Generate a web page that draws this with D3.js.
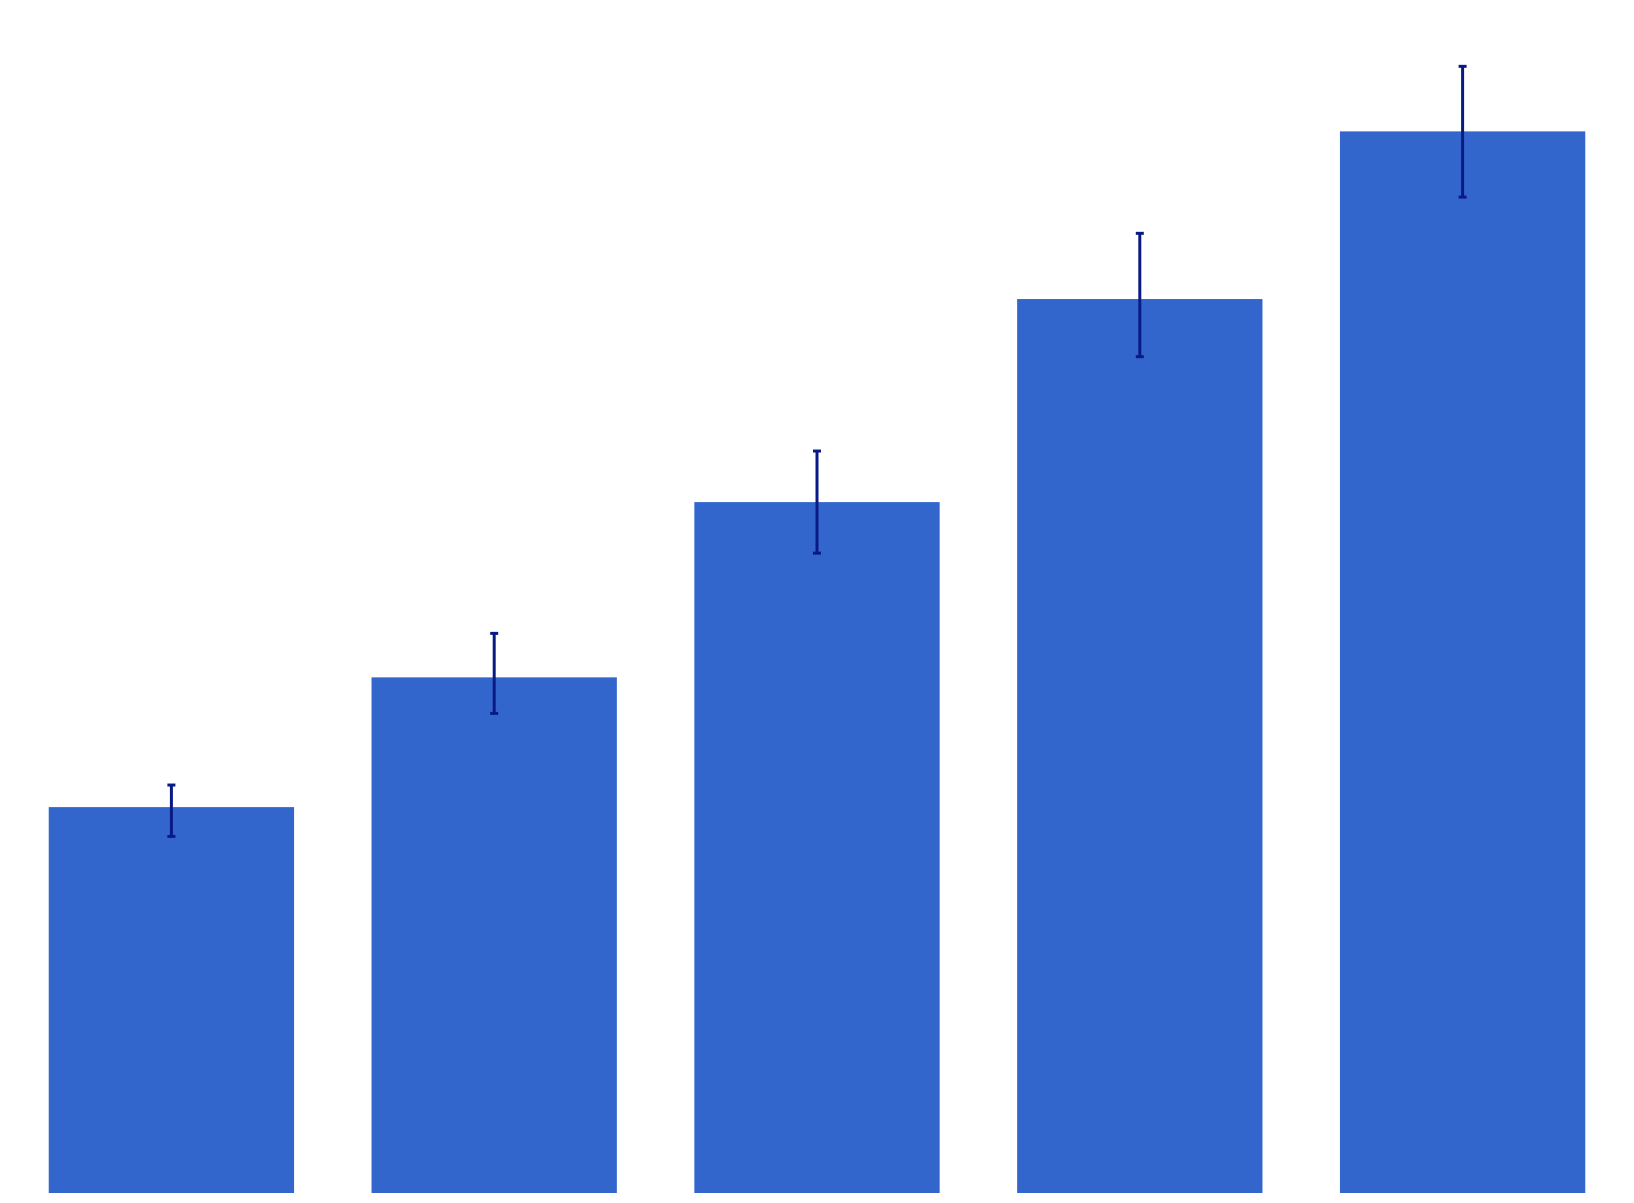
<!DOCTYPE html>
<html>
<head>
<meta charset="utf-8">
<script src="https://cdn.jsdelivr.net/npm/d3@7"></script>
<style>
  html, body { margin: 0; padding: 0; background: #ffffff; }
  svg { display: block; }
</style>
</head>
<body>
<svg id="chart" width="1634" height="1203"></svg>
<script>
const categories = ["A", "B", "C", "D", "E"];
const values = [2.29, 3.06, 4.10, 5.305, 6.30];
const errorsPlus = [0.131, 0.261, 0.303, 0.39, 0.386];
const errorsMinus = [0.174, 0.214, 0.303, 0.342, 0.39];

const W = 1634, H = 1203;
const margin = { top: 10, right: 10, bottom: 10, left: 10 };

const svg = d3.select("#chart");

const x = d3.scaleBand()
  .domain(categories)
  .range([margin.left, W - margin.right])
  .paddingInner(0.24)
  .paddingOuter(0.12);

const ymax = d3.max(values.map((v, i) => v + errorsPlus[i])) * 1.05;
const y = d3.scaleLinear()
  .domain([0, ymax])
  .range([H - margin.bottom, margin.top]);

const data = categories.map((c, i) => ({ c, v: values[i], ep: errorsPlus[i], em: errorsMinus[i] }));

svg.append("g").selectAll("rect")
  .data(data)
  .join("rect")
  .attr("x", d => x(d.c))
  .attr("y", d => y(d.v))
  .attr("width", x.bandwidth())
  .attr("height", d => y(0) - y(d.v))
  .attr("fill", "#3366cc");

const eg = svg.append("g").attr("stroke", "#0a1a85").attr("fill", "none");
const cx = d => x(d.c) + x.bandwidth() / 2;

eg.selectAll("line.stem")
  .data(data)
  .join("line")
  .attr("class", "stem")
  .attr("x1", cx).attr("x2", cx)
  .attr("y1", d => y(d.v + d.ep))
  .attr("y2", d => y(d.v - d.em))
  .attr("stroke-width", 3);

eg.selectAll("line.capT")
  .data(data)
  .join("line")
  .attr("class", "capT")
  .attr("x1", d => cx(d) - 4).attr("x2", d => cx(d) + 4)
  .attr("y1", d => y(d.v + d.ep)).attr("y2", d => y(d.v + d.ep))
  .attr("stroke-width", 3);

eg.selectAll("line.capB")
  .data(data)
  .join("line")
  .attr("class", "capB")
  .attr("x1", d => cx(d) - 4).attr("x2", d => cx(d) + 4)
  .attr("y1", d => y(d.v - d.em)).attr("y2", d => y(d.v - d.em))
  .attr("stroke-width", 3);
</script>
</body>
</html>
